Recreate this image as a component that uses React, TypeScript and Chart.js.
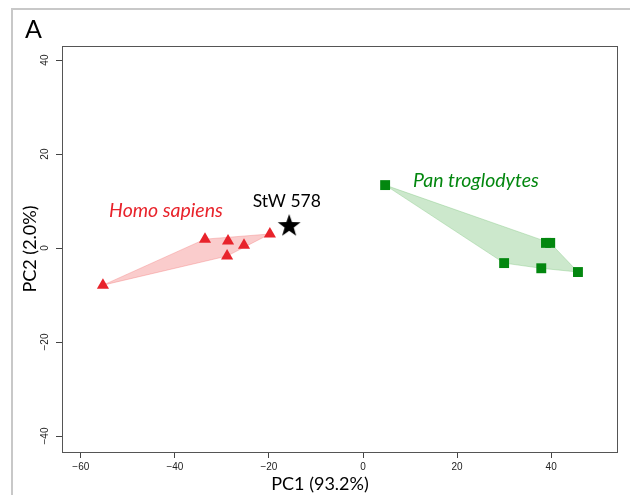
import React, { useEffect, useRef } from "react";
import { Chart, registerables } from "chart.js";

Chart.register(...registerables);

const HOMO_X = [-55.3, -33.6, -28.7, -28.9, -25.3, -19.8];
const HOMO_Y = [-7.9, 1.9, 1.5, -1.7, 0.6, 3.0];
const HOMO_HULL = [0, 1, 5, 3];
const PAN_X = [4.7, 30.0, 37.9, 38.9, 39.8, 45.7];
const PAN_Y = [13.4, -3.2, -4.3, 1.1, 1.1, -5.1];
const PAN_HULL = [0, 4, 5, 2, 1];
const STW_X = [-15.7];
const STW_Y = [4.9];
const X_TICKS = [-60, -40, -20, 0, 20, 40];
const Y_TICKS = [-40, -20, 0, 20, 40];
const X_RANGE = [-64, 54];
const Y_RANGE = [-43.4, 43];
const LABEL_TEXT = ["Homo sapiens", "Pan troglodytes", "StW 578"];
const LABEL_X = [-41.9, 24.0, -16.2];
const LABEL_Y = [7.9, 14.3, 9.9];

const RED = "#e8232b";
const GREEN = "#03870f";

function pts(xs: number[], ys: number[]) {
  return xs.map((x, i) => ({ x, y: ys[i] }));
}
function hull(xs: number[], ys: number[], idx: number[]) {
  const p = idx.map((i) => ({ x: xs[i], y: ys[i] }));
  p.push({ x: xs[idx[0]], y: ys[idx[0]] });
  return p;
}

function makeStar(): HTMLCanvasElement {
  const c = document.createElement("canvas");
  c.width = 26;
  c.height = 26;
  const ctx = c.getContext("2d")!;
  ctx.fillStyle = "#000";
  ctx.beginPath();
  const cx = 13, cy = 14, R = 12, r = 4.8;
  for (let i = 0; i < 10; i++) {
    const a = -Math.PI / 2 + (i * Math.PI) / 5;
    const rad = i % 2 === 0 ? R : r;
    const x = cx + rad * Math.cos(a);
    const y = cy + rad * Math.sin(a);
    if (i === 0) ctx.moveTo(x, y);
    else ctx.lineTo(x, y);
  }
  ctx.closePath();
  ctx.fill();
  return c;
}

const decor = {
  id: "decor",
  afterDraw(chart: any) {
    const ctx = chart.ctx;
    const a = chart.chartArea;
    const xs = chart.scales.x;
    const ys = chart.scales.y;
    ctx.save();
    ctx.strokeStyle = "#555";
    ctx.lineWidth = 1;
    ctx.strokeRect(Math.round(a.left) + 0.5, Math.round(a.top) + 0.5, Math.round(a.right - a.left), Math.round(a.bottom - a.top));

    // y tick labels rotated
    ctx.fillStyle = "#222";
    ctx.font = "10px 'Liberation Sans', Arial, sans-serif";
    ctx.textAlign = "center";
    ctx.textBaseline = "middle";
    for (const v of Y_TICKS) {
      const py = ys.getPixelForValue(v);
      ctx.save();
      ctx.translate(a.left - 17, py);
      ctx.rotate(-Math.PI / 2);
      ctx.fillText(String(v).replace("-", "\u2212"), 0, 0);
      ctx.restore();
    }

    // annotations
    const colors = [RED, GREEN, "#000"];
    const fonts = ["italic 19.5px Lato, sans-serif", "italic 19.5px Lato, sans-serif", "17.5px Lato, sans-serif"];
    LABEL_TEXT.forEach((t, i) => {
      ctx.fillStyle = colors[i];
      ctx.font = fonts[i];
      ctx.textAlign = "center";
      ctx.textBaseline = "middle";
      ctx.fillText(t, xs.getPixelForValue(LABEL_X[i]), ys.getPixelForValue(LABEL_Y[i]));
    });

    // titles
    ctx.fillStyle = "#000";
    ctx.font = "18px Lato, sans-serif";
    ctx.textAlign = "center";
    ctx.textBaseline = "middle";
    ctx.fillText("PC1 (93.2%)", 320, 484);
    ctx.save();
    ctx.translate(30, 249);
    ctx.rotate(-Math.PI / 2);
    ctx.fillText("PC2 (2.0%)", 0, 0);
    ctx.restore();
    ctx.font = "25px Lato, sans-serif";
    ctx.textAlign = "left";
    ctx.fillText("A", 25, 30);
    ctx.restore();
  },
};

export default function App() {
  const ref = useRef<HTMLCanvasElement>(null);
  useEffect(() => {
    const star = makeStar();
    const chart = new Chart(ref.current!, {
      type: "scatter",
      data: {
        datasets: [
          {
            data: hull(HOMO_X, HOMO_Y, HOMO_HULL),
            showLine: true,
            fill: "shape",
            backgroundColor: "rgba(240,110,110,0.35)",
            borderColor: "rgba(240,110,110,0.35)",
            borderWidth: 1,
            pointRadius: 0,
            order: 5,
          } as any,
          {
            data: hull(PAN_X, PAN_Y, PAN_HULL),
            showLine: true,
            fill: "shape",
            backgroundColor: "rgba(120,195,120,0.38)",
            borderColor: "rgba(120,195,120,0.38)",
            borderWidth: 1,
            pointRadius: 0,
            order: 5,
          } as any,
          {
            data: pts(HOMO_X, HOMO_Y),
            pointStyle: "triangle",
            pointRadius: 7,
            backgroundColor: RED,
            borderColor: RED,
            borderWidth: 0,
            order: 1,
          },
          {
            data: pts(PAN_X, PAN_Y),
            pointStyle: "rect",
            pointRadius: 7,
            backgroundColor: GREEN,
            borderColor: GREEN,
            borderWidth: 0,
            order: 1,
          },
          {
            data: pts(STW_X, STW_Y),
            pointStyle: star as any,
            pointRadius: 12,
            order: 0,
          },
        ],
      },
      options: {
        animation: false,
        responsive: false,
        events: [],
        layout: { padding: { left: 0, top: 46, right: 13, bottom: 0 } },
        plugins: { legend: { display: false }, tooltip: { enabled: false } },
        scales: {
          x: {
            type: "linear",
            min: X_RANGE[0],
            max: X_RANGE[1],
            afterBuildTicks: (s: any) => {
              s.ticks = X_TICKS.map((v) => ({ value: v }));
            },
            afterFit: (s: any) => {
              s.height = 43;
            },
            border: { display: false },
            grid: { drawOnChartArea: false, drawTicks: true, tickLength: 6, tickColor: "#444", tickWidth: 1 },
            ticks: {
              padding: 3,
              color: "#222",
              font: { family: "'Liberation Sans', Arial, sans-serif", size: 10 },
              maxRotation: 0,
              callback: (v: any) => String(v).replace("-", "\u2212"),
            },
          },
          y: {
            type: "linear",
            min: Y_RANGE[0],
            max: Y_RANGE[1],
            afterBuildTicks: (s: any) => {
              s.ticks = Y_TICKS.map((v) => ({ value: v }));
            },
            afterFit: (s: any) => {
              s.width = 62;
            },
            border: { display: false },
            grid: { drawOnChartArea: false, drawTicks: true, tickLength: 6, tickColor: "#444", tickWidth: 1 },
            ticks: { display: false },
          },
        },
      },
      plugins: [decor],
    });
    return () => chart.destroy();
  }, []);
  return (
    <div style={{ position: "fixed", left: 0, top: 0, width: 630, height: 495, background: "#fff" }}>
      <div
        style={{
          position: "absolute",
          left: 11,
          top: 8,
          width: 619,
          height: 487,
          borderTop: "2px solid #c8c8c8",
          borderLeft: "2px solid #c8c8c8",
          boxSizing: "border-box",
        }}
      />
      <canvas ref={ref} width={630} height={495} style={{ position: "absolute", left: 0, top: 0 }} />
    </div>
  );
}
